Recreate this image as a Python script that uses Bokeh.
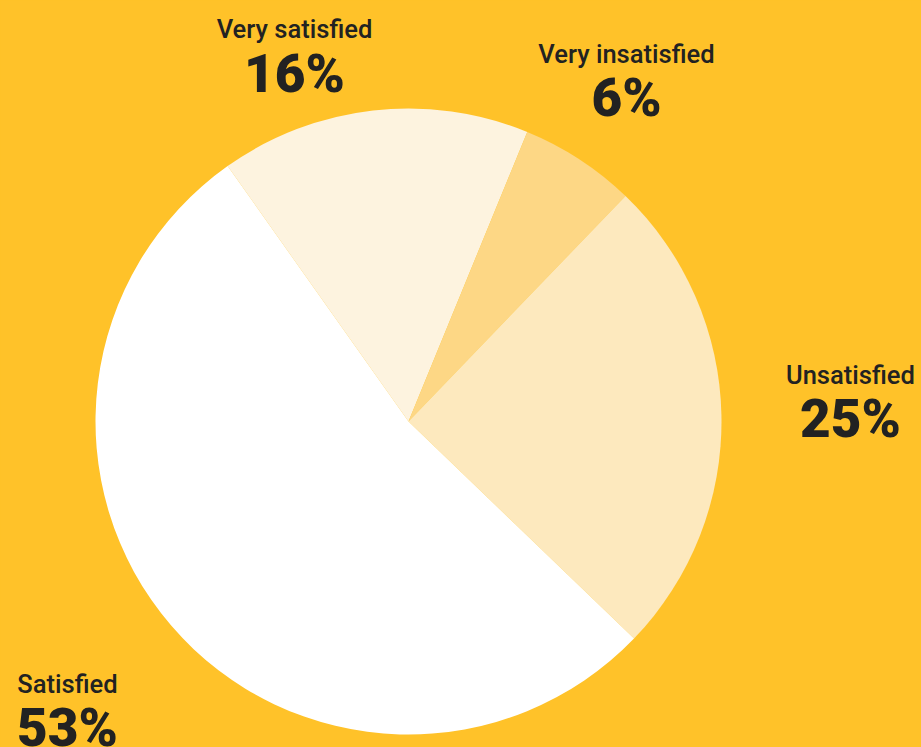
from math import radians
from bokeh.plotting import figure
from bokeh.models import Range1d, ColumnDataSource
from bokeh.core.properties import value
from bokeh.embed import file_html
from bokeh.resources import INLINE

# data
categories = ["Very satisfied", "Very insatisfied", "Unsatisfied", "Satisfied"]
percents = [16, 6, 25, 53]
colors = ["#FDF3DF", "#FDD785", "#FDE9BE", "#FFFFFF"]
pct_labels = ["16%", "6%", "25%", "53%"]

BG = "#FFC229"
W, H = 921, 747
start_offset = -35.3  # degrees clockwise from top

starts, ends = [], []
cum = start_offset
for v in percents:
    a0 = cum
    a1 = cum + v * 3.6
    starts.append(radians(90 - a0))
    ends.append(radians(90 - a1))
    cum = a1

cx, cy, r = 408, H - 421, 313

src = ColumnDataSource(dict(cat=categories, v=percents, color=colors,
                            start=starts, end=ends))

p = figure(width=W, height=H, output_backend="svg", toolbar_location=None,
           x_range=Range1d(0, W), y_range=Range1d(0, H), min_border=0,
           background_fill_color=BG, border_fill_color=BG, outline_line_color=None)
p.axis.visible = False
p.grid.visible = False

p.wedge(x=cx, y=cy, radius=r, start_angle="start", end_angle="end",
        direction="clock", fill_color="color", line_color=None, source=src)

# label positions (layout, text centers in pixels from top-left)
lab_x = [294, 626, 850, 67]
lab_mid = [28.5, 53.5, 374, 683.5]
pct_mid = [73, 97, 418, 727]

lsrc = ColumnDataSource(dict(x=lab_x, y=[H - b for b in lab_mid], t=categories))
psrc = ColumnDataSource(dict(x=lab_x, y=[H - b for b in pct_mid], t=pct_labels))

p.text(x="x", y="y", text="t", source=lsrc,
       text_font=value("'Roboto Medium', Roboto"),
       text_font_size="25.5px", text_color="#222222", text_align="center",
       text_baseline="middle", text_font_style="normal")
p.text(x="x", y="y", text="t", source=psrc,
       text_font=value("'Roboto Black', Roboto"),
       text_font_size="53px", text_color="#222222", text_align="center",
       text_baseline="middle", text_font_style="bold")

html = file_html(p, INLINE)
html = html.replace("<head>", "<head><style>html,body{background:%s;}</style>" % BG, 1)
open("out.html", "w").write(html)
